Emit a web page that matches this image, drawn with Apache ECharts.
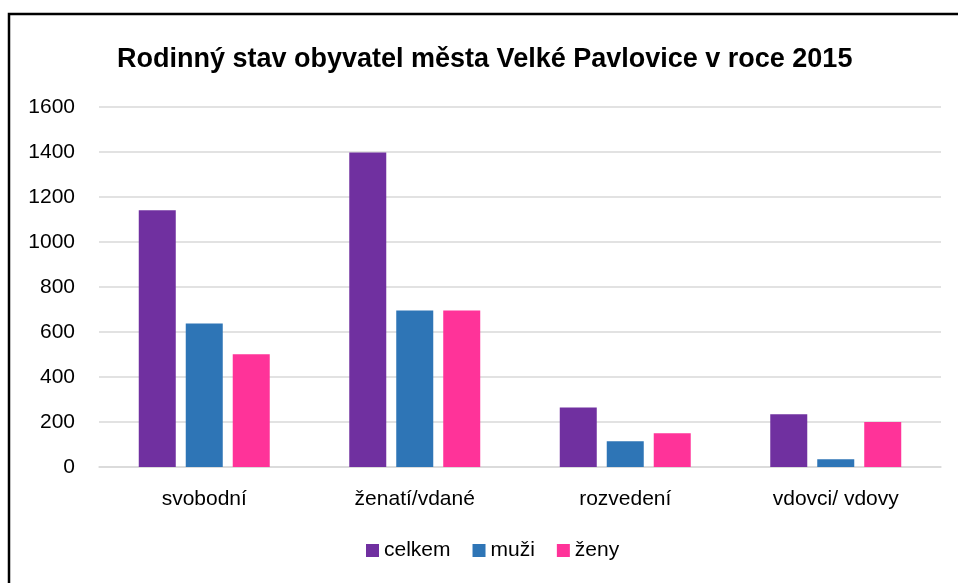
<!DOCTYPE html>
<html>
<head>
<meta charset="utf-8">
<script src="https://cdn.jsdelivr.net/npm/echarts@6/dist/echarts.min.js"></script>
<style>
html,body{margin:0;padding:0;background:#fff;}
#chart{width:958px;height:583px;}
</style>
</head>
<body>
<div id="chart"></div>
<script>
const titleText = 'Rodinný stav obyvatel města Velké Pavlovice v roce 2015';
const categories = ['svobodní', 'ženatí/vdané', 'rozvedení', 'vdovci/ vdovy'];
const seriesNames = ['celkem', 'muži', 'ženy'];
const celkem = [1141, 1398, 265, 234];
const muzi = [638, 696, 114, 34];
const zeny = [501, 696, 150, 200];
const colors = ['#7030A0', '#2E75B6', '#FF3399'];
const yTicks = { min: 0, max: 1600, interval: 200 };

const font = 'Liberation Sans, Arial, sans-serif';
const chart = echarts.init(document.getElementById('chart'), null, { renderer: 'canvas' });
const data = [celkem, muzi, zeny];
chart.setOption({
  animation: false,
  backgroundColor: '#ffffff',
  color: colors,
  graphic: [{
    type: 'polyline',
    shape: { points: [[9, 600], [9, 14], [970, 14]] },
    style: { stroke: '#000', lineWidth: 2.5, fill: null },
    silent: true
  }],
  title: {
    text: titleText,
    left: 117,
    top: 46,
    padding: 0,
    textStyle: { fontFamily: font, fontSize: 27, fontWeight: 'bold', color: '#000' }
  },
  legend: {
    data: seriesNames,
    bottom: 17,
    left: 361,
    itemWidth: 13,
    itemHeight: 13,
    itemGap: 22,
    icon: 'rect',
    textStyle: { fontFamily: font, fontSize: 21, color: '#000' }
  },
  grid: { left: 99, right: 17, top: 107, bottom: 116, containLabel: false },
  xAxis: {
    type: 'category',
    data: categories,
    axisLine: { show: true, lineStyle: { color: '#D9D9D9', width: 1.5 } },
    axisTick: { show: false },
    axisLabel: { fontFamily: font, fontSize: 21, color: '#000', margin: 22 }
  },
  yAxis: {
    type: 'value',
    min: yTicks.min,
    max: yTicks.max,
    interval: yTicks.interval,
    axisLine: { show: false },
    axisTick: { show: false },
    splitLine: { lineStyle: { color: '#D9D9D9', width: 1.5 } },
    axisLabel: { fontFamily: font, fontSize: 21, color: '#000', margin: 24, formatter: v => String(v) }
  },
  series: seriesNames.map((n, i) => ({
    name: n,
    type: 'bar',
    data: data[i],
    barWidth: 37,
    barGap: '27%',
    itemStyle: { color: colors[i] }
  }))
});
</script>
</body>
</html>
